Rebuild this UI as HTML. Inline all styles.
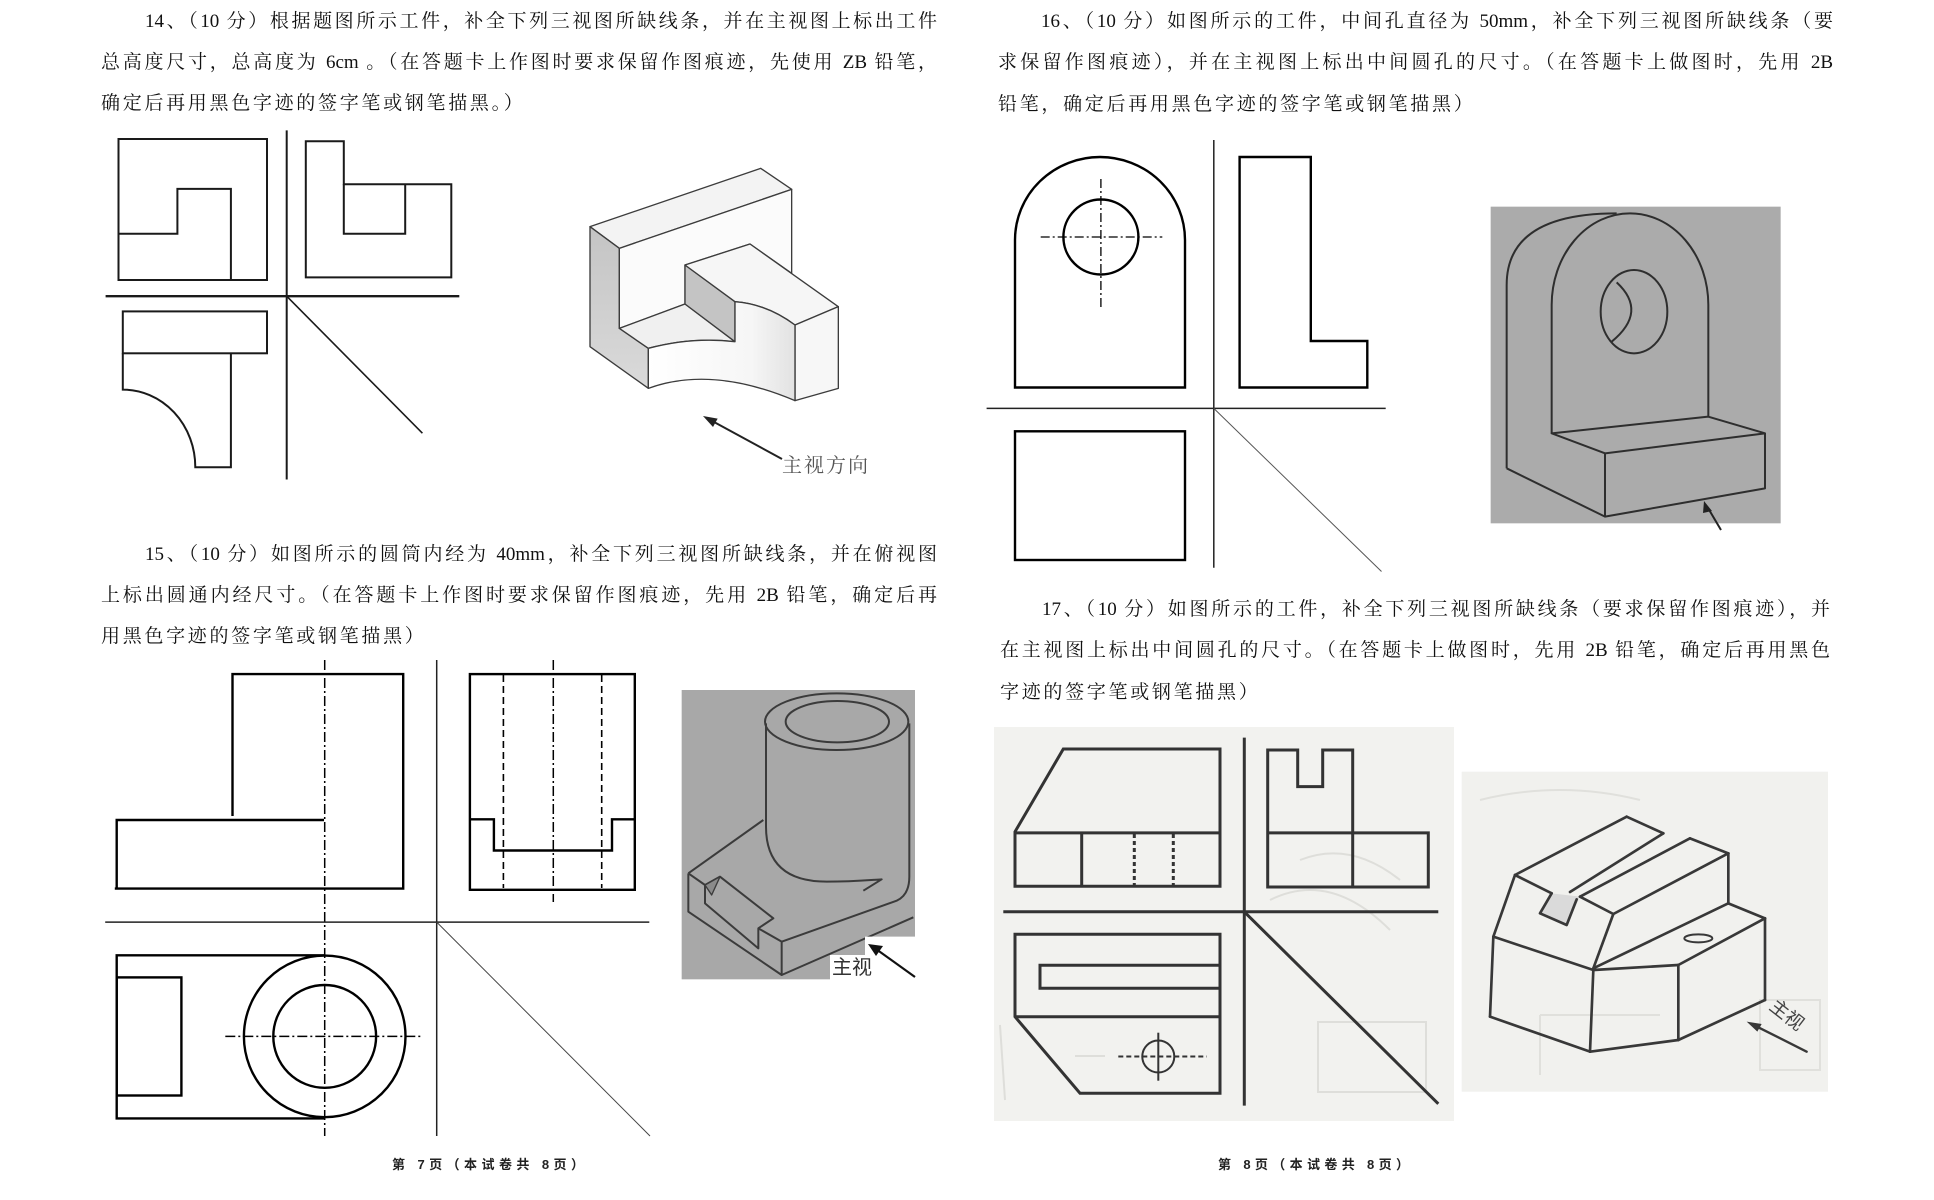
<!DOCTYPE html>
<html lang="zh-CN">
<head>
<meta charset="utf-8">
<style>
  html,body{margin:0;padding:0;background:#fff;}
  body{width:1934px;height:1200px;position:relative;overflow:hidden;}
  .t{position:absolute;font-family:"Liberation Serif","Noto Serif CJK SC",serif;font-size:19px;line-height:24px;height:24px;color:#111;white-space:normal;}
  .j{text-align:justify;text-align-last:justify;}
  .l{letter-spacing:2.7px;white-space:nowrap;}
  .f{position:absolute;font-family:"Liberation Sans","Noto Sans CJK SC",sans-serif;font-size:13px;font-weight:bold;line-height:16px;height:16px;color:#222;text-align:justify;text-align-last:justify;}
  svg{position:absolute;left:0;top:0;}
</style>
</head>
<body>
<svg width="1934" height="1200" viewBox="0 0 1934 1200" xmlns="http://www.w3.org/2000/svg">
  <defs>
    <linearGradient id="g1" x1="0" y1="0" x2="0" y2="1">
      <stop offset="0" stop-color="#c4c4c4"/>
      <stop offset="1" stop-color="#dadada"/>
    </linearGradient>
    <linearGradient id="g2" x1="0" y1="0" x2="1" y2="0">
      <stop offset="0" stop-color="#ffffff"/>
      <stop offset="0.7" stop-color="#f6f6f6"/>
      <stop offset="1" stop-color="#e2e2e2"/>
    </linearGradient>
  </defs>

  <!-- ============ Q14 orthographic ============ -->
  <g fill="none" stroke="#1a1a1a" stroke-width="2">
    <rect x="118.5" y="139" width="148.5" height="141"/>
    <polyline points="118.5,233.8 177.4,233.8 177.4,188.9 230.9,188.9 230.9,280"/>
    <polygon points="305.8,141.3 343.8,141.3 343.8,184.3 451.3,184.3 451.3,277.4 305.8,277.4"/>
    <polyline points="343.8,184.3 343.8,233.8 405.2,233.8 405.2,184.3"/>
    <rect x="122.8" y="311.4" width="144.2" height="41.9"/>
    <path d="M122.8,353.3 L122.8,389.6 A72.5,77.6 0 0 1 195.3,467.2 L230.9,467.2 L230.9,353.3"/>
  </g>
  <g fill="none" stroke="#1a1a1a">
    <line x1="105.6" y1="296.2" x2="459.3" y2="296.2" stroke-width="2.4"/>
    <line x1="286.7" y1="130.4" x2="286.7" y2="479.5" stroke-width="2"/>
    <line x1="286.7" y1="296.2" x2="422.4" y2="433.2" stroke-width="1.6"/>
  </g>

  <!-- ============ Q14 isometric ============ -->
  <g transform="translate(570,150) scale(0.33333)" stroke="#3c3c3c" stroke-width="4" stroke-linejoin="round">
    <polygon points="60,230 572,55 665,118 148,295" fill="#f3f3f3"/>
    <polygon points="60,230 148,295 148,535 235,595 235,715 60,590" fill="url(#g1)"/>
    <polygon points="148,295 665,118 665,370 540,282 345,345 345,462 148,535" fill="#fbfbfb"/>
    <path d="M148,535 L345,462 L495,575 Q366,560 235,595 Z" fill="#f0f0f0"/>
    <polygon points="345,345 495,455 495,575 345,462" fill="#c4c4c4"/>
    <path d="M345,345 L540,282 L805,470 L675,525 Q590,462 495,455 Z" fill="#f6f6f6"/>
    <polygon points="675,525 805,470 805,715 675,752" fill="#f7f7f7"/>
    <path d="M235,595 Q366,560 495,575 L495,455 Q590,462 675,525 L675,752 Q425,646 235,715 Z" fill="url(#g2)"/>
    <line x1="636" y1="927" x2="430" y2="815" stroke="#222" stroke-width="6"/>
    <polygon points="399,798 443,806 429,831" fill="#222" stroke="none"/>
  </g>
  <text x="782" y="472" font-family="Liberation Serif, Noto Serif CJK SC, serif" font-size="20" fill="#555" letter-spacing="2">主视方向</text>

  <!-- ============ Q15 orthographic ============ -->
  <g fill="none" stroke="#000" stroke-width="2.4">
    <polyline points="232.5,816 232.5,674.1 403.2,674.1 403.2,888.6 114.8,888.6"/>
    <polyline points="116.7,888.6 116.7,820 324,820"/>
    <rect x="469.9" y="674.1" width="164.9" height="215.7"/>
    <polyline points="469.9,819.3 493.9,819.3 493.9,850.5 612,850.5 612,819.3 634.8,819.3"/>
    <polyline points="324,955.3 116.7,955.3 116.7,1118.4 324,1118.4"/>
    <rect x="116.7" y="977.4" width="64.7" height="118.1"/>
    <circle cx="324.7" cy="1036.4" r="80.8"/>
    <circle cx="324.7" cy="1036.4" r="51.4"/>
  </g>
  <g fill="none" stroke="#000" stroke-width="1.5" stroke-dasharray="10 3 2 3">
    <line x1="324.7" y1="660" x2="324.7" y2="1136"/>
    <line x1="553.3" y1="660" x2="553.3" y2="902"/>
    <line x1="225.3" y1="1036.4" x2="421.5" y2="1036.4"/>
  </g>
  <g fill="none" stroke="#000" stroke-width="1.6" stroke-dasharray="7 4">
    <line x1="503.4" y1="675" x2="503.4" y2="888"/>
    <line x1="601.7" y1="675" x2="601.7" y2="888"/>
  </g>
  <g fill="none" stroke="#222">
    <line x1="436.7" y1="660" x2="436.7" y2="1136" stroke-width="1.5"/>
    <line x1="105.2" y1="922.1" x2="649.3" y2="922.1" stroke-width="1.5"/>
    <line x1="436.7" y1="922.1" x2="650" y2="1136" stroke-width="1" stroke="#444"/>
  </g>

  <!-- ============ Q15 photo ============ -->
  <g transform="translate(680,680) scale(0.33333)" stroke-linejoin="round">
    <rect x="5" y="30" width="700" height="868" fill="#a8a8a8"/>
    <g fill="none" stroke="#3b3b3b" stroke-width="6">
      <ellipse cx="470" cy="125" rx="215" ry="85"/>
      <ellipse cx="472" cy="125" rx="155" ry="62"/>
      <path d="M258,130 L258,440 C258,560 330,605 440,605 C520,605 570,600 605,598 L550,632"/>
      <path d="M688,130 L688,590 Q688,645 650,662 L305,785"/>
      <line x1="25" y1="580" x2="250" y2="420"/>
      <polyline points="25,580 25,695 305,885 305,785"/>
      <line x1="305" y1="885" x2="700" y2="712"/>
      <polyline points="25,580 75,615 75,670 235,805 235,745 305,785"/>
      <polyline points="75,615 120,590 280,715 235,745"/>
    </g>
    <polygon points="75,615 120,590 95,645" fill="#8a8a8a" stroke="#3b3b3b" stroke-width="4"/>
    <polygon points="555,770 712,770 712,905 450,905 450,825 555,825" fill="#fff"/>
  </g>
  <line x1="915" y1="977" x2="876" y2="949" stroke="#111" stroke-width="2.2"/>
  <polygon points="868,944 883,946 876,956" fill="#111"/>
  <text x="832" y="974" font-family="Liberation Sans, Noto Sans CJK SC, sans-serif" font-size="20" fill="#333">主视</text>

  <!-- ============ Q16 orthographic ============ -->
  <g fill="none" stroke="#000" stroke-width="2.4">
    <path d="M1015,387.5 L1015,240 A85,83 0 0 1 1185,240 L1185,387.5 Z"/>
    <circle cx="1100.9" cy="237" r="37.5"/>
    <polygon points="1239.6,157 1310.8,157 1310.8,341 1367.3,341 1367.3,387.5 1239.6,387.5"/>
    <rect x="1015" y="431.3" width="170" height="128.7"/>
  </g>
  <g fill="none" stroke="#000" stroke-width="1.3" stroke-dasharray="9 3 2 3">
    <line x1="1100.9" y1="179" x2="1100.9" y2="308.6"/>
    <line x1="1040.7" y1="237" x2="1162.3" y2="237"/>
  </g>
  <g fill="none" stroke="#222">
    <line x1="1213.8" y1="140" x2="1213.8" y2="567.7" stroke-width="1.5"/>
    <line x1="986.6" y1="408.4" x2="1385.7" y2="408.4" stroke-width="1.5"/>
    <line x1="1213.8" y1="408.4" x2="1381.5" y2="571.5" stroke-width="1" stroke="#555"/>
  </g>

  <!-- ============ Q16 photo ============ -->
  <g transform="translate(1480,195) scale(0.33333)" stroke-linejoin="round">
    <rect x="32" y="35" width="870" height="950" fill="#ababab"/>
    <g fill="none" stroke="#2e2e2e" stroke-width="6">
      <path d="M80,820 L80,270 C80,120 200,55 410,55"/>
      <path d="M215,715 L215,330 A235,275 0 0 1 685,330 L685,665"/>
      <ellipse cx="462" cy="350" rx="100" ry="125"/>
      <path d="M410,262 Q505,350 395,440"/>
      <polygon points="215,715 685,665 855,715 375,775"/>
      <polyline points="375,775 375,965 855,880 855,715"/>
      <line x1="80" y1="820" x2="375" y2="965"/>
    </g>
  </g>
  <line x1="1721" y1="530" x2="1708" y2="508" stroke="#222" stroke-width="2"/>
  <polygon points="1704,501 1712,511 1703,513" fill="#222"/>

  <!-- ============ Q17 orthographic (scan) ============ -->
  <rect x="994" y="727" width="460" height="394" fill="#f2f2ef"/>
  <g fill="none" stroke="#dededa" stroke-width="2">
    <path d="M1270,900 Q1330,870 1390,930"/>
    <path d="M1300,860 Q1350,840 1400,880"/>
    <rect x="1318" y="1022" width="108" height="70"/>
    <line x1="1000" y1="1025" x2="1005" y2="1100"/>
    <path d="M1075,1056 L1105,1056"/>
  </g>
  <g fill="none" stroke="#333" stroke-width="3">
    <polygon points="1063.3,749 1220,749 1220,886.2 1015,886.2 1015,831.8"/>
    <line x1="1015" y1="832.9" x2="1220" y2="832.9"/>
    <line x1="1081.7" y1="832.9" x2="1081.7" y2="886.2"/>
    <polygon points="1267.7,750 1297.7,750 1297.7,786.6 1322.7,786.6 1322.7,750 1352.7,750 1352.7,832.9 1428.3,832.9 1428.3,887 1267.7,887"/>
    <line x1="1267.7" y1="832.9" x2="1352.7" y2="832.9"/>
    <line x1="1352.7" y1="832.9" x2="1352.7" y2="887"/>
    <polygon points="1015,934.2 1220,934.2 1220,1093.2 1080,1093.2 1015,1016.7"/>
    <line x1="1015" y1="1016.7" x2="1220" y2="1016.7"/>
    <polyline points="1220,965.2 1040,965.2 1040,988.3 1220,988.3"/>
    <line x1="1244.3" y1="737.6" x2="1244.3" y2="1105.6"/>
    <line x1="1003.3" y1="911.8" x2="1438.3" y2="911.8"/>
    <line x1="1244.3" y1="911.8" x2="1438.3" y2="1103.8"/>
  </g>
  <g fill="none" stroke="#333" stroke-width="3" stroke-dasharray="4 3">
    <line x1="1134.3" y1="834" x2="1134.3" y2="885"/>
    <line x1="1173.3" y1="834" x2="1173.3" y2="885"/>
  </g>
  <g fill="none" stroke="#333" stroke-width="2">
    <circle cx="1158.3" cy="1056.5" r="16"/>
    <line x1="1158.3" y1="1032.7" x2="1158.3" y2="1080.7"/>
    <line x1="1118.3" y1="1056.5" x2="1206.7" y2="1056.5" stroke-dasharray="5 3"/>
  </g>

  <!-- ============ Q17 isometric (scan) ============ -->
  <rect x="1461.7" y="771.7" width="366.3" height="320" fill="#f1f1ee"/>
  <g fill="none" stroke="#e0e0dc" stroke-width="2">
    <path d="M1480,800 Q1560,780 1640,800"/>
    <line x1="1540" y1="1015" x2="1660" y2="1015"/>
    <line x1="1540" y1="1015" x2="1540" y2="1075"/>
    <rect x="1760" y="1000" width="60" height="70"/>
  </g>
  <g transform="translate(1450,760) scale(0.33333)" fill="none" stroke="#383838" stroke-width="8" stroke-linejoin="round" stroke-linecap="round">
    <polygon points="305,400 270,460 350,495 390,410" fill="#dadada" stroke="none"/>
    <line x1="195" y1="345" x2="530" y2="170"/>
    <line x1="530" y1="170" x2="640" y2="220"/>
    <line x1="640" y1="220" x2="360" y2="396"/>
    <line x1="195" y1="345" x2="305" y2="400"/>
    <polyline points="305,400 270,460 350,495 380,418"/>
    <line x1="390" y1="410" x2="720" y2="235"/>
    <line x1="720" y1="235" x2="835" y2="280"/>
    <line x1="835" y1="280" x2="490" y2="462"/>
    <line x1="390" y1="410" x2="490" y2="462"/>
    <line x1="835" y1="280" x2="835" y2="430"/>
    <line x1="490" y1="462" x2="430" y2="625"/>
    <line x1="195" y1="345" x2="130" y2="530"/>
    <line x1="130" y1="530" x2="430" y2="630"/>
    <line x1="130" y1="530" x2="120" y2="770"/>
    <line x1="120" y1="770" x2="420" y2="875"/>
    <line x1="420" y1="875" x2="685" y2="840"/>
    <line x1="685" y1="840" x2="945" y2="720"/>
    <line x1="945" y1="475" x2="945" y2="720"/>
    <line x1="835" y1="430" x2="945" y2="475"/>
    <line x1="945" y1="475" x2="685" y2="615"/>
    <line x1="685" y1="615" x2="685" y2="840"/>
    <line x1="430" y1="630" x2="685" y2="615"/>
    <line x1="430" y1="630" x2="420" y2="875"/>
    <line x1="430" y1="625" x2="835" y2="430"/>
    <ellipse cx="745" cy="535" rx="42" ry="12" stroke-width="6"/>
    <line x1="1070" y1="875" x2="915" y2="797" stroke-width="7"/>
    <polygon points="890,785 935,792 922,815" fill="#383838" stroke="none"/>
    <text x="0" y="0" transform="translate(955,745) rotate(38)" font-family="Liberation Sans, Noto Sans CJK SC, sans-serif" font-size="56" fill="#444" stroke="none">主视</text>
  </g>
</svg>

<!-- ============ Text ============ -->
<div class="t j" style="left:145px;top:10px;width:792px;">14、（10 分）根据题图所示工件，补全下列三视图所缺线条，并在主视图上标出工件</div>
<div class="t j" style="left:101px;top:51px;width:836px;">总高度尺寸，总高度为 6cm 。（在答题卡上作图时要求保留作图痕迹，先使用 ZB 铅笔，</div>
<div class="t l" style="left:101px;top:92px;">确定后再用黑色字迹的签字笔或钢笔描黑。）</div>

<div class="t j" style="left:145px;top:543px;width:792px;">15、（10 分）如图所示的圆筒内经为 40mm，补全下列三视图所缺线条，并在俯视图</div>
<div class="t j" style="left:101px;top:584px;width:836px;">上标出圆通内经尺寸。（在答题卡上作图时要求保留作图痕迹，先用 2B 铅笔，确定后再</div>
<div class="t l" style="left:101px;top:625px;">用黑色字迹的签字笔或钢笔描黑）</div>

<div class="t j" style="left:1041px;top:10px;width:792px;">16、（10 分）如图所示的工件，中间孔直径为 50mm，补全下列三视图所缺线条（要</div>
<div class="t j" style="left:998px;top:51px;width:835px;">求保留作图痕迹），并在主视图上标出中间圆孔的尺寸。（在答题卡上做图时，先用 2B</div>
<div class="t l" style="left:998px;top:93px;">铅笔，确定后再用黑色字迹的签字笔或钢笔描黑）</div>

<div class="t j" style="left:1042px;top:598px;width:788px;">17、（10 分）如图所示的工件，补全下列三视图所缺线条（要求保留作图痕迹），并</div>
<div class="t j" style="left:1000px;top:639px;width:830px;">在主视图上标出中间圆孔的尺寸。（在答题卡上做图时，先用 2B 铅笔，确定后再用黑色</div>
<div class="t l" style="left:1000px;top:681px;">字迹的签字笔或钢笔描黑）</div>

<div class="f" style="left:392px;top:1157px;width:192px;">第 7页（本试卷共 8页）</div>
<div class="f" style="left:1218px;top:1157px;width:191px;">第 8页（本试卷共 8页）</div>
</body>
</html>
